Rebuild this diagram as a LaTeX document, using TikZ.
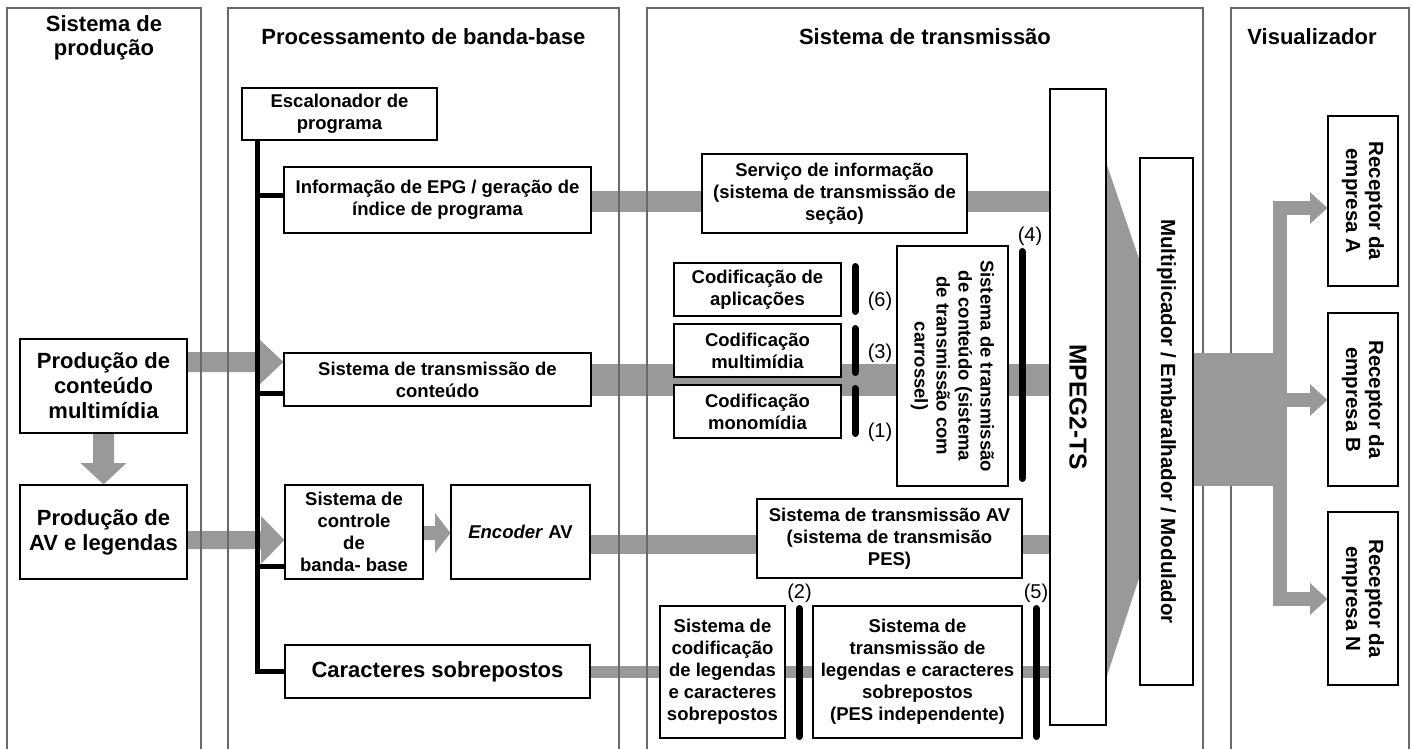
\documentclass[tikz,border=0pt]{standalone}
\usepackage{fontspec}
\setmainfont{Liberation Sans}
\usetikzlibrary{calc}
\pgfdeclarelayer{bg}
\pgfdeclarelayer{pan}
\pgfsetlayers{bg,pan,main}
\definecolor{gflow}{RGB}{153,153,153}
\definecolor{pedge}{RGB}{105,105,105}
\newcommand{\fsz}[2]{\fontsize{#1}{#2}\selectfont}
\begin{document}
\begin{tikzpicture}[x=1pt,y=-1pt,
  panel/.style={draw=pedge,line width=1.3pt},
  box/.style={draw=black,line width=1.2pt,fill=white,inner sep=0pt,align=center,font=\bfseries\fsz{18.5}{22}},
  bigbox/.style={box,font=\bfseries\fsz{22}{25}},
  rbox/.style={box,rotate=-90},
  head/.style={font=\bfseries\fsz{22}{24},align=center,inner sep=0pt},
  num/.style={font=\fsz{20}{22},inner sep=0pt},
  bus/.style={draw=black,line width=5pt},
  bar/.style={draw=black,line width=7pt,line cap=round},
]
\useasboundingbox (0,0) rectangle (1414,749);
\begin{pgfonlayer}{bg}
\fill[white] (0,0) rectangle (1414,749);
\end{pgfonlayer}

% panels
\begin{pgfonlayer}{pan}
\draw[panel] (7,749) |- (201,8) -- (201,749);
\draw[panel] (228,749) |- (619,8) -- (619,749);
\draw[panel] (647,749) |- (1203,8) -- (1203,749);
\draw[panel] (1231,749) |- (1409,8) -- (1409,749);
\end{pgfonlayer}

% headers
\node[head] (h1) at (104,37.5) {Sistema de\\produção};
\node[head] (h2) at (423.5,37) {Processamento de banda-base};
\node[head] (h3) at (925,37) {Sistema de transmissão};
\node[head] (h4) at (1312,37) {Visualizador};

% boxes
\node[bigbox,minimum width=167pt,minimum height=94pt] (prodM) at (103.5,386) {Produção de\\conteúdo\\multimídia};
\node[bigbox,minimum width=167pt,minimum height=94pt] (prodAV) at (103.5,532) {Produção de\\AV e legendas};
\node[box,minimum width=195pt,minimum height=52pt] (esc) at (339.5,114) {Escalonador de\\programa};
\node[box,minimum width=307pt,minimum height=66pt] (epg) at (437.5,200) {Informação de EPG / geração de\\índice de programa};
\node[box,minimum width=307pt,minimum height=53pt] (cont) at (437.5,379.5) {Sistema de transmissão de\\conteúdo};
\node[box,minimum width=138pt,minimum height=94pt] (ctrl) at (354,532) {Sistema de\\controle\\de\\banda- base};
\node[box,minimum width=139pt,minimum height=94pt] (enc) at (520.5,532) {\textit{Encoder} AV};
\node[bigbox,minimum width=305pt,minimum height=53pt] (car) at (437.5,671.5) {Caracteres sobrepostos};
\node[box,minimum width=265pt,minimum height=79pt] (serv) at (834.5,193.5) {Serviço de informação\\(sistema de transmissão de\\seção)};
\node[box,minimum width=167pt,minimum height=53pt] (capl) at (757.5,289.5) {Codificação de\\aplicações};
\node[box,minimum width=167pt,minimum height=53pt] (cmul) at (757.5,350.5) {Codificação\\multimídia};
\node[box,minimum width=167pt,minimum height=53pt] (cmon) at (757.5,411.5) {Codificação\\monomídia};
\node[rbox,minimum width=240pt,minimum height=111pt] (carr) at (952.5,366) {Sistema de transmissão\\de conteúdo (sistema\\de transmissão com\\carrossel)};
\node[box,minimum width=265pt,minimum height=79pt] (tav) at (889.5,538.5) {Sistema de transmissão AV\\(sistema de transmisão\\PES)};
\node[box,minimum width=125pt,minimum height=132pt] (ccod) at (722.5,672) {Sistema de\\codificação\\de legendas\\e caracteres\\sobrepostos};
\node[box,minimum width=209pt,minimum height=132pt] (tleg) at (917.5,672) {Sistema de\\transmissão de\\legendas e caracteres\\sobrepostos\\(PES independente)};
\node[rbox,minimum width=636pt,minimum height=56pt,font=\bfseries\fsz{24.5}{26}] (mpeg) at (1078,407) {MPEG2-TS};
\node[rbox,minimum width=527pt,minimum height=53pt,font=\bfseries\fsz{20.5}{23}] (mux) at (1166.5,421.5) {Multiplicador / Embaralhador / Modulador};
\node[rbox,minimum width=170pt,minimum height=70pt,font=\bfseries\fsz{20.5}{23}] (rA) at (1363,201) {Receptor da\\empresa A};
\node[rbox,minimum width=173pt,minimum height=70pt,font=\bfseries\fsz{20.5}{23}] (rB) at (1363,399.5) {Receptor da\\empresa B};
\node[rbox,minimum width=173pt,minimum height=70pt,font=\bfseries\fsz{20.5}{23}] (rN) at (1363,598.5) {Receptor da\\empresa N};

% grey flows
\begin{pgfonlayer}{bg}
\fill[gflow] (epg.east |- 0,191) rectangle (mpeg.south |- 0,212);
\fill[gflow] (cont.east |- 0,364) rectangle (mpeg.south |- 0,396);
\fill[gflow] (enc.east |- 0,535) rectangle (mpeg.south |- 0,554);
\fill[gflow] (car.east |- 0,666) rectangle (mpeg.south |- 0,678);
\fill[gflow] (prodM.east |- 0,352) -- (260,352) -- (260,340) -- (cont.west |- 0,362) -- (260,384) -- (260,372) -- (prodM.east |- 0,372) -- cycle;
\fill[gflow] (prodM.south -| 93,0) -- (93,463) -- (80.5,463) -- (prodAV.north) -- (126.5,463) -- (114,463) -- (prodM.south -| 114,0) -- cycle;
\fill[gflow] (prodAV.east |- 0,531) -- (261,531) -- (261,516) -- (ctrl.west |- 0,540) -- (261,564) -- (261,549) -- (prodAV.east |- 0,549) -- cycle;
\fill[gflow] (ctrl.east |- 0,526) -- (435,526) -- (435,513) -- (enc.west |- 0,533) -- (435,553) -- (435,540) -- (ctrl.east |- 0,540) -- cycle;
\fill[gflow] (mpeg.north |- 0,164) -- (mux.south |- 0,260) -- (mux.south |- 0,577) -- (mpeg.north |- 0,677) -- cycle;
\end{pgfonlayer}

% outputs
\fill[gflow] (mux.north |- 0,353) rectangle (1287,486);
\fill[gflow] (1273,201) rectangle (1287,606);
\fill[gflow] (1273,201) rectangle (1310,215);
\fill[gflow] (1310,192) -- (rA.south |- 0,208) -- (1310,224) -- cycle;
\fill[gflow] (1287,393) rectangle (1310,407);
\fill[gflow] (1310,384) -- (rB.south |- 0,400) -- (1310,416) -- cycle;
\fill[gflow] (1273,592) rectangle (1310,606);
\fill[gflow] (1310,583) -- (rN.south |- 0,599) -- (1310,615) -- cycle;

% bus
\draw[bus] (esc.south -| 257,0) |- (car.west);
\draw[bus] (257,195) -- (epg.west |- 0,195);
\draw[bus] (257,393) -- (cont.west |- 0,393);
\draw[bus] (257,566) -- (ctrl.west |- 0,566);

% bars
\draw[bar] (855,266.5) -- (855,311.5);
\draw[bar] (855,328.5) -- (855,372.5);
\draw[bar] (855,388.5) -- (855,433.5);
\draw[bar] (1022,251.5) -- (1022,478.5);
\draw[bar] (799,608.5) -- (799,736.5);
\draw[bar] (1036,608.5) -- (1036,736.5);

% labels
\node[num] (n6) at (880,301) {(6)};
\node[num] (n3) at (880,353) {(3)};
\node[num] (n1) at (880,432) {(1)};
\node[num] (n4) at (1030,236) {(4)};
\node[num] (n2) at (799.5,593) {(2)};
\node[num] (n5) at (1036,593) {(5)};
\end{tikzpicture}
\end{document}
